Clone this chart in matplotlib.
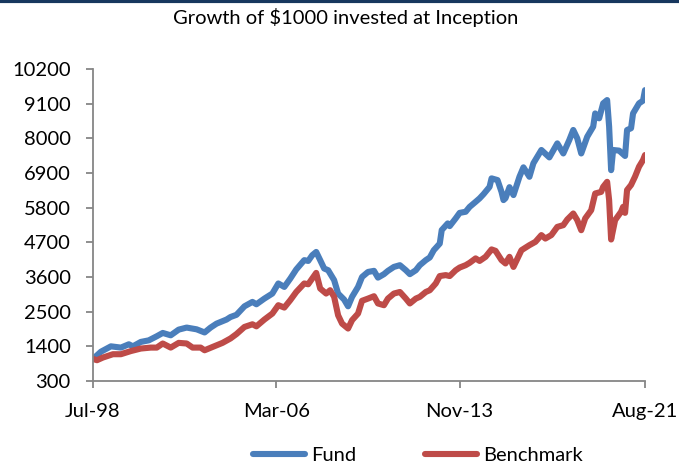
import matplotlib
matplotlib.use("Agg")
import matplotlib.pyplot as plt
from matplotlib.lines import Line2D

# months since Jul-98
fund_month = [0, 4, 9, 14, 18, 20, 24, 28, 32, 35, 39, 43, 47, 52, 56, 59, 62, 67,
              69, 72, 76, 80, 82, 86, 90, 93, 96, 99, 102, 106, 108, 110, 112, 114,
              116, 118, 121, 123, 126, 128, 130, 133, 135, 138, 141, 143, 146, 148,
              151, 154, 157, 159, 162, 164, 167, 169, 171, 174, 175, 178, 179, 182,
              184, 187, 189, 192, 194, 196, 199, 200, 203, 205, 206, 207, 209, 211,
              214, 216, 219, 221, 225, 229, 233, 236, 239, 241, 243, 245, 248, 251,
              252, 254, 256, 258, 259, 260, 261, 264, 267, 268, 270, 271, 274, 276, 277]
fund_value = [1000, 1230, 1400, 1360, 1465, 1400, 1540, 1590, 1720, 1825, 1750, 1930,
              1995, 1940, 1840, 1995, 2120, 2250, 2330, 2400, 2670, 2810, 2735, 2915,
              3075, 3395, 3285, 3550, 3840, 4135, 4110, 4290, 4395, 4135, 3870, 3815,
              3500, 3075, 2885, 2670, 2970, 3285, 3600, 3760, 3795, 3580, 3690, 3795,
              3920, 3975, 3815, 3690, 3815, 3975, 4135, 4220, 4450, 4660, 5090, 5300,
              5215, 5460, 5635, 5670, 5825, 5985, 6095, 6230, 6460, 6730, 6675, 6300,
              6040, 6100, 6450, 6200, 6780, 7080, 6780, 7210, 7630, 7395, 7840, 7520,
              7945, 8265, 8000, 7520, 8050, 8370, 8790, 8635, 9110, 9215, 8370, 6990,
              7630, 7610, 7440, 8265, 8320, 8790, 9110, 9195, 9530]

bench_month = [0, 2, 5, 10, 14, 19, 24, 29, 32, 35, 39, 43, 47, 50, 54, 56, 60, 65,
               69, 72, 76, 80, 82, 86, 90, 93, 96, 99, 102, 106, 108, 110, 112, 114,
               117, 119, 121, 123, 125, 128, 130, 133, 135, 138, 141, 143, 146, 148,
               151, 154, 157, 159, 162, 164, 167, 169, 172, 174, 177, 179, 182, 184,
               187, 189, 192, 194, 197, 200, 202, 205, 207, 209, 211, 215, 219, 222,
               225, 227, 230, 233, 236, 238, 241, 243, 245, 247, 250, 252, 255, 256,
               258, 259, 260, 262, 265, 266, 267, 268, 270, 272, 274, 276, 277]
bench_value = [1000, 960, 1045, 1150, 1150, 1250, 1330, 1360, 1360, 1490, 1360, 1510,
               1490, 1360, 1360, 1275, 1380, 1510, 1650, 1790, 2015, 2100, 2035, 2250,
               2440, 2705, 2630, 2865, 3125, 3395, 3370, 3550, 3730, 3235, 3075, 3180,
               2970, 2385, 2120, 1965, 2230, 2440, 2845, 2915, 2990, 2760, 2705, 2915,
               3075, 3125, 2915, 2760, 2915, 2970, 3125, 3180, 3395, 3630, 3660, 3630,
               3815, 3900, 3975, 4050, 4190, 4110, 4240, 4475, 4430, 4135, 4030, 4240,
               3920, 4450, 4610, 4715, 4930, 4820, 4930, 5190, 5245, 5425, 5615, 5405,
               5085, 5460, 5720, 6250, 6300, 6460, 6620, 6040, 4790, 5405, 5670, 5825,
               5635, 6360, 6520, 6785, 7100, 7310, 7470]

x_tick_pos = [0, 92, 184, 277]
x_tick_labels = ["Jul-98", "Mar-06", "Nov-13", "Aug-21"]
y_ticks = list(range(300, 10201, 1100))

blue = "#4A7EBB"
red = "#BE4B48"
grey = "#868686"

plt.rcParams['font.family'] = ['Lato', 'DejaVu Sans']

fig = plt.figure(figsize=(6.79, 4.71), dpi=100)
ax = fig.add_axes([93 / 679, 90 / 471, 552 / 679, 312 / 471])

ax.plot(fund_month, fund_value, color=blue, lw=4.4, solid_joinstyle='round',
        solid_capstyle='round')
ax.plot(bench_month, bench_value, color=red, lw=4.4, solid_joinstyle='round',
        solid_capstyle='round')

ax.set_xlim(0, 277)
ax.set_ylim(300, 10200)
ax.set_xticks(x_tick_pos)
ax.set_xticklabels(x_tick_labels)
ax.set_yticks(y_ticks)

for s in ['top', 'right']:
    ax.spines[s].set_visible(False)
for s in ['left', 'bottom']:
    ax.spines[s].set_color(grey)
    ax.spines[s].set_linewidth(1.3)
ax.tick_params(axis='both', direction='out', length=5, width=1.3, color=grey,
               labelsize=14.5, labelcolor='black')
ax.tick_params(axis='x', pad=11)
ax.tick_params(axis='y', pad=11)

# title and the dark band along the top edge
fig.text(0.509, 0.962, "Growth of $1000 invested at Inception", ha='center',
         va='center', fontsize=14.5)
fig.add_artist(Line2D([0, 1], [0.997, 0.997], color="#17375E", lw=3,
                      transform=fig.transFigure))

handles = [Line2D([], [], color=blue, lw=4.4, solid_capstyle='round'),
           Line2D([], [], color=red, lw=4.4, solid_capstyle='round')]
fig.legend(handles, ["Fund", "Benchmark"], loc='center', ncol=2,
           bbox_to_anchor=(0.615, 0.032), frameon=False, fontsize=14.5,
           handlelength=2.6, handletextpad=0.3, columnspacing=3.4)

fig.savefig("out.png", dpi=100)
